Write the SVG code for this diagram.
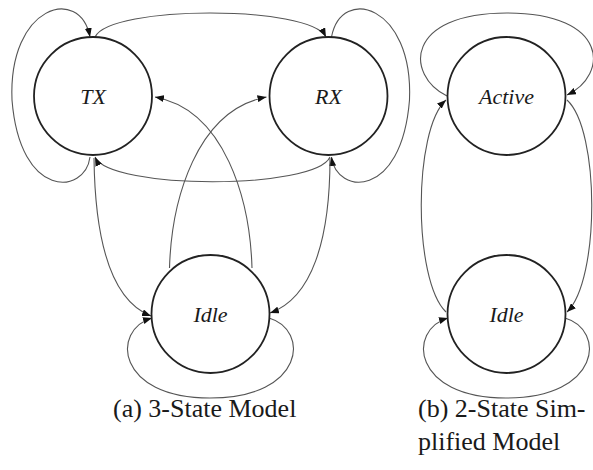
<svg xmlns="http://www.w3.org/2000/svg" width="593" height="470" viewBox="0 0 593 470">
  <style>
    .state { fill: #ffffff; stroke: #222222; stroke-width: 1.8; }
    .edge { fill: none; stroke: #555555; stroke-width: 1.1; marker-end: url(#arrow); }
  </style>
  <defs>
    <marker id="arrow" viewBox="0 0 9 7" refX="9" refY="3.5" markerWidth="9" markerHeight="7" markerUnits="userSpaceOnUse" orient="auto">
      <path d="M0,0 L9,3.5 L0,7 z" fill="#111111"/>
    </marker>
  </defs>

  <rect width="593" height="470" fill="#ffffff"/>

  <!-- transitions -->
  <g id="connectors">
    <!-- 3-state model -->
    <path id="tx-tx" class="edge" d="M90,157 C85,195 20,200 12,100 C8,5 80,-15 90,37"/>
    <path id="tx-rx" class="edge" d="M95,37 C110,5 310,5 326,37"/>
    <path id="rx-tx" class="edge" d="M330,157 C315,190 110,190 95,157"/>
    <path id="rx-rx" class="edge" d="M331.5,37 C341.5,-15 413.5,5 409.5,100 C401.5,200 336.5,195 331.5,157"/>
    <path id="tx-idle" class="edge" d="M94,158 C95,240 110,300 151,316"/>
    <path id="rx-idle" class="edge" d="M330,158 C330,240 312,298 270,313"/>
    <path id="idle-tx" class="edge" d="M252,268 C250,200 225,110 155,97"/>
    <path id="idle-rx" class="edge" d="M169.5,268 C171.5,200 196.5,110 266.5,97"/>
    <path id="idle-idle" class="edge" d="M269,318 C310,330 305,398 210,398 C116,398 111,330 152,318"/>
    <!-- 2-state model -->
    <path id="active-active" class="edge" d="M447,96 C405,75 405,13 507,13 C609,13 609,75 567,95"/>
    <path id="active-idle" class="edge" d="M567,100 C600,130 600,280 567,312"/>
    <path id="idle-active" class="edge" d="M446,312 C413,280 413,130 446,100"/>
    <path id="idle2-idle2" class="edge" d="M565,318 C606,330 601,398 506,398 C412,398 407,330 448,318"/>
  </g>

  <!-- states -->
  <g font-family="Liberation Serif, Times New Roman, serif" font-style="italic" font-size="22" fill="#1a1a1a" text-anchor="middle">
    <g id="tx">
      <circle class="state" cx="93" cy="96" r="59"/>
      <text x="93" y="104">TX</text>
    </g>
    <g id="rx">
      <circle class="state" cx="328.5" cy="96" r="59"/>
      <text x="328.5" y="104">RX</text>
    </g>
    <g id="idle">
      <circle class="state" cx="210.5" cy="314" r="59"/>
      <text x="210.5" y="322">Idle</text>
    </g>
    <g id="active">
      <circle class="state" cx="506.5" cy="96" r="59"/>
      <text x="506.5" y="104">Active</text>
    </g>
    <g id="idle2">
      <circle class="state" cx="506.5" cy="314" r="59"/>
      <text x="506.5" y="322">Idle</text>
    </g>
  </g>

  <!-- captions -->
  <g id="captions" font-family="Liberation Serif, Times New Roman, serif" font-size="26" fill="#1a1a1a">
    <text x="113" y="417">(a) 3-State Model</text>
    <text x="418" y="417">(b) 2-State Sim-</text>
    <text x="418" y="450">plified Model</text>
  </g>
</svg>
